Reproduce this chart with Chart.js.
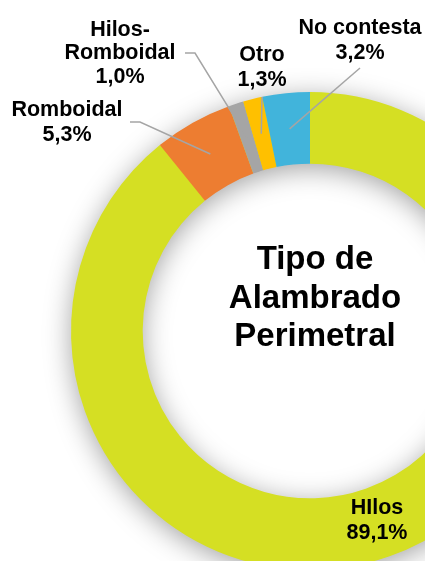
<!DOCTYPE html>
<html>
<head>
<meta charset="utf-8">
<script src="https://cdn.jsdelivr.net/npm/chart.js@4"></script>
<style>
html,body{margin:0;padding:0;background:#fff;width:425px;height:561px;overflow:hidden;}
#wrap{position:absolute;left:0;top:0;width:620px;height:662px;}
#title{position:absolute;left:195px;top:239px;width:240px;text-align:center;font-family:"Liberation Sans",Arial,sans-serif;font-weight:bold;font-size:33px;line-height:38.5px;color:#000;}
</style>
</head>
<body>
<div id="wrap"><canvas id="c"></canvas></div>
<div id="title">Tipo de<br>Alambrado<br>Perimetral</div>
<script>
const categories = ["HIlos", "Romboidal", "Hilos-Romboidal", "Otro", "No contesta"];
const values = [89.1, 5.3, 1.0, 1.3, 3.2];
const valueLabels = ["89,1%", "5,3%", "1,0%", "1,3%", "3,2%"];
const labelLines = [["HIlos"], ["Romboidal"], ["Hilos-", "Romboidal"], ["Otro"], ["No contesta"]];
const colors = ["#D5DF23", "#ED7D31", "#A5A5A5", "#FFC000", "#41B4DB"];

// label layout (style, not data): text center x, first line y, line height, leader path start points
const labelLayout = [
  {x: 377, y: 508, lh: 25, leader: null},
  {x: 67, y: 110, lh: 25, leader: [[130, 122], [140, 122]]},
  {x: 120, y: 30, lh: 23.5, leader: [[185, 53], [195, 53]]},
  {x: 262, y: 55, lh: 25, leader: [[262, 97]]},
  {x: 360, y: 28, lh: 25, leader: [[360, 68]]}
];

const shadowPlugin = {
  id: 'ringShadow',
  beforeDatasetsDraw(chart) {
    const meta = chart.getDatasetMeta(0);
    if (!meta.data.length) return;
    const a = meta.data[0];
    const ctx = chart.ctx;
    ctx.save();
    ctx.shadowColor = 'rgba(0,0,0,0.38)';
    ctx.shadowBlur = 28;
    ctx.shadowOffsetY = 5;
    ctx.beginPath();
    ctx.arc(a.x, a.y, a.outerRadius - 1, 0, Math.PI * 2);
    ctx.arc(a.x, a.y, a.innerRadius + 1, 0, Math.PI * 2, true);
    ctx.closePath();
    ctx.fillStyle = colors[0];
    ctx.fill();
    ctx.restore();
  }
};

const labelPlugin = {
  id: 'outLabels',
  afterDatasetsDraw(chart) {
    const meta = chart.getDatasetMeta(0);
    const ctx = chart.ctx;
    ctx.save();
    meta.data.forEach((arc, i) => {
      const L = labelLayout[i];
      if (L.leader) {
        const cp = arc.getCenterPoint();
        ctx.beginPath();
        ctx.strokeStyle = '#A5A5A5';
        ctx.lineWidth = 1.5;
        ctx.moveTo(L.leader[0][0], L.leader[0][1]);
        for (let k = 1; k < L.leader.length; k++) ctx.lineTo(L.leader[k][0], L.leader[k][1]);
        ctx.lineTo(cp.x, cp.y);
        ctx.stroke();
      }
      const lines = labelLines[i].concat([valueLabels[i]]);
      ctx.fillStyle = '#000';
      ctx.font = 'bold 21.5px "Liberation Sans", Arial, sans-serif';
      ctx.textAlign = 'center';
      ctx.textBaseline = 'middle';
      lines.forEach((t, j) => ctx.fillText(t, L.x, L.y + j * L.lh));
    });
    ctx.restore();
  }
};

new Chart(document.getElementById('c'), {
  type: 'doughnut',
  data: {
    labels: categories,
    datasets: [{
      data: values,
      backgroundColor: colors,
      borderWidth: 0,
      hoverOffset: 0
    }]
  },
  options: {
    responsive: true,
    maintainAspectRatio: false,
    animation: false,
    cutout: '70%',
    rotation: 0,
    layout: {padding: 71},
    plugins: {legend: {display: false}, tooltip: {enabled: false}}
  },
  plugins: [shadowPlugin, labelPlugin]
});
</script>
</body>
</html>
